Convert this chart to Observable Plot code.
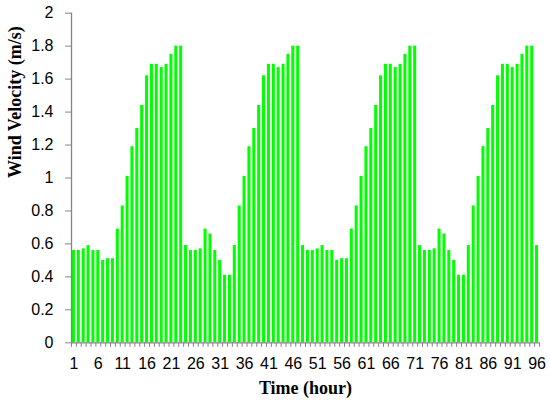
<!DOCTYPE html>
<html>
<head>
<meta charset="utf-8">
<script src="https://cdn.jsdelivr.net/npm/d3@7"></script>
<script src="https://cdn.jsdelivr.net/npm/@observablehq/plot@0.6"></script>
<style>
  html, body { margin: 0; padding: 0; background: #fff; }
  #chart svg { display: block; }
</style>
</head>
<body>
<div id="chart"></div>
<script>
const hours = [1,2,3,4,5,6,7,8,9,10,11,12,13,14,15,16,17,18,19,20,21,22,23,24,
  25,26,27,28,29,30,31,32,33,34,35,36,37,38,39,40,41,42,43,44,45,46,47,48,
  49,50,51,52,53,54,55,56,57,58,59,60,61,62,63,64,65,66,67,68,69,70,71,72,
  73,74,75,76,77,78,79,80,81,82,83,84,85,86,87,88,89,90,91,92,93,94,95,96];

const velocity = [
  0.56,0.56,0.57,0.59,0.56,0.56,0.50,0.51,0.51,0.69,0.83,1.01,1.19,1.30,1.44,1.62,1.69,1.69,1.67,1.69,1.75,1.80,1.80,
  0.59,0.56,0.56,0.57,0.69,0.66,0.56,0.50,0.41,0.41,0.59,0.83,1.01,1.19,1.30,1.44,1.62,1.69,1.69,1.67,1.69,1.75,1.80,1.80,
  0.59,0.56,0.56,0.57,0.59,0.56,0.56,0.50,0.51,0.51,0.69,0.83,1.01,1.19,1.30,1.44,1.62,1.69,1.69,1.67,1.69,1.75,1.80,1.80,
  0.59,0.56,0.56,0.57,0.69,0.66,0.56,0.50,0.41,0.41,0.59,0.83,1.01,1.19,1.30,1.44,1.62,1.69,1.69,1.67,1.69,1.75,1.80,1.80,0.59
];

const xTickLabels = [1,6,11,16,21,26,31,36,41,46,51,56,61,66,71,76,81,86,91,96];
const yTicks = [0,0.2,0.4,0.6,0.8,1,1.2,1.4,1.6,1.8,2];

const xTitle = "Time (hour)";
const yTitle = "Wind Velocity (m/s)";

const data = hours.map((h, i) => ({hour: h, v: velocity[i]}));

const W = 550, H = 408;
const mL = 71, mR = 11, mT = 12.7, mB = 65.7;
const halfStep = (W - mL - mR) / hours.length / 2;
const axisGray = "#868686";
const serif = "'Liberation Serif', 'Times New Roman', serif";

const chart = Plot.plot({
  width: W, height: H,
  marginLeft: mL, marginRight: mR, marginTop: mT, marginBottom: mB,
  style: {fontFamily: "'Liberation Sans', Arial, sans-serif", fontSize: "16px", background: "#fff", color: "#000"},
  x: {type: "band", domain: hours, paddingInner: 0.38, paddingOuter: 0.19, axis: null},
  y: {domain: [0, 2], axis: null},
  marks: [
    Plot.barY(data, {x: "hour", y: "v", fill: "#00ff00"}),
    Plot.frame({anchor: "left", stroke: axisGray, strokeWidth: 1.3}),
    Plot.ruleY([0], {stroke: axisGray, strokeWidth: 1.3}),
    Plot.axisY({ticks: yTicks, tickSize: 6, tickPadding: 12, stroke: axisGray, fill: "#000",
      fontSize: 16, label: null, tickFormat: d => String(+d.toFixed(1))}),
    Plot.axisX({ticks: hours, tickSize: 4.5, text: null, label: null, stroke: axisGray, dx: -halfStep}),
    Plot.axisX({ticks: [hours[hours.length - 1]], tickSize: 4.5, text: null, label: null, stroke: axisGray, dx: halfStep}),
    Plot.axisX({ticks: xTickLabels, tickSize: 0, tickPadding: 15, fill: "#000", fontSize: 16, label: null,
      tickFormat: d => String(d)}),
    Plot.text([yTitle], {frameAnchor: "left", rotate: -90, dx: -56, fontFamily: serif,
      fontWeight: "bold", fontSize: 18, fill: "#000"}),
    Plot.text([xTitle], {frameAnchor: "bottom", dy: 51.5, fontFamily: serif,
      fontWeight: "bold", fontSize: 18, fill: "#000"})
  ]
});

document.getElementById("chart").appendChild(chart);
</script>
</body>
</html>
